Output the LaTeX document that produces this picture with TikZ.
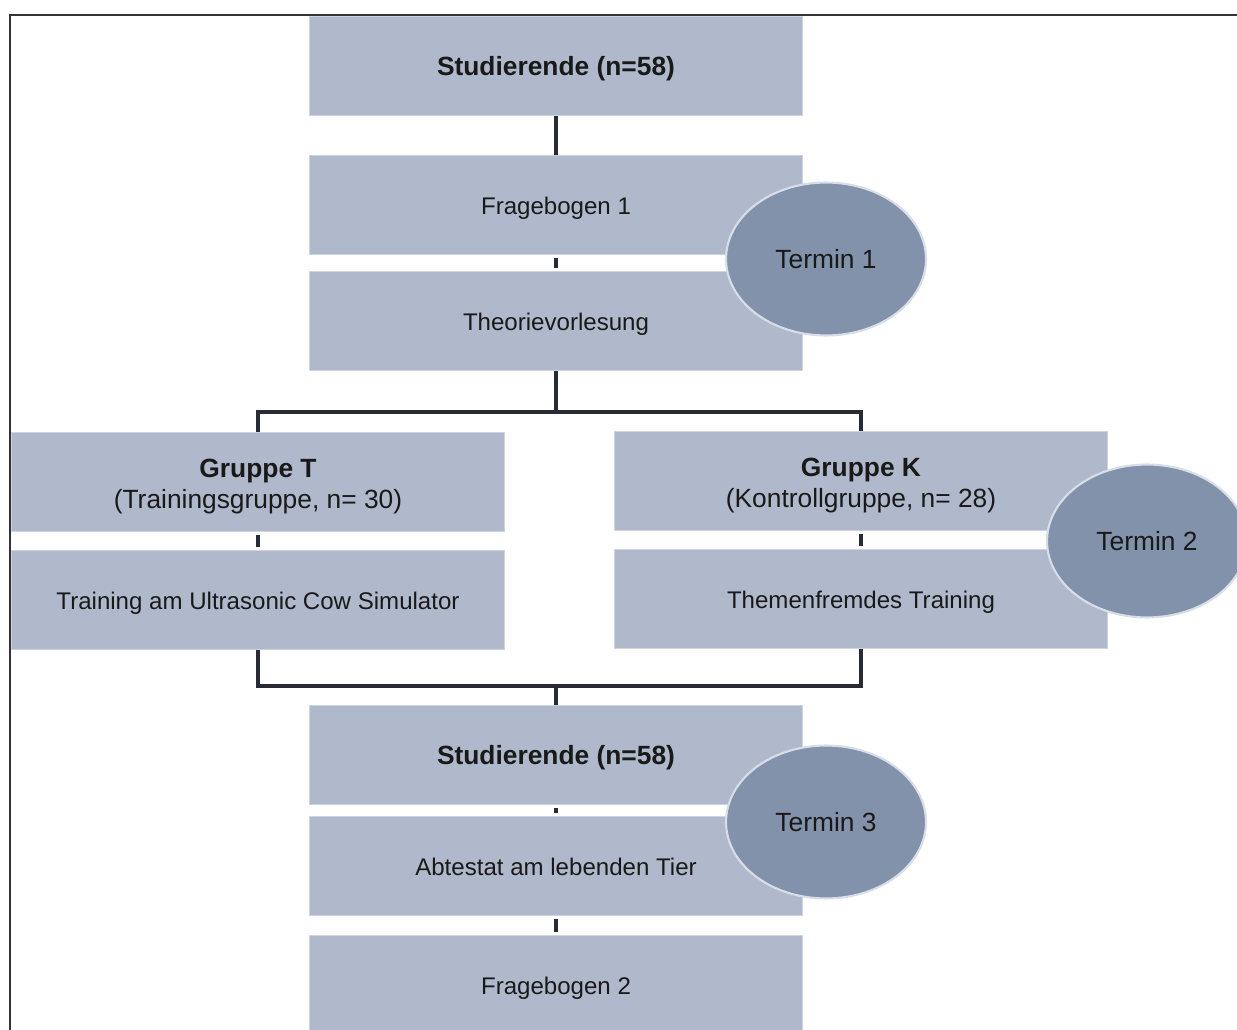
\documentclass[tikz,border=0pt]{standalone}
\usepackage{fontspec}
\setmainfont{Liberation Sans}
\usepackage{tikz}
\usetikzlibrary{
    positioning,
    shapes.geometric
}
\definecolor{boxBlue}{RGB}{175, 185, 203}
\definecolor{boxEdge}{RGB}{205, 211, 223}
\definecolor{ovalBlue}{RGB}{130, 146, 170}
\definecolor{ovalEdge}{RGB}{216, 222, 233}
\definecolor{lineDark}{RGB}{38, 43, 54}

\begin{document}
\begin{tikzpicture}[x=0.02cm, y=-0.02cm,
    stepbox/.style={fill=boxBlue, draw=boxEdge, line width=0.6pt,
        minimum width=9.86cm, minimum height=1.98cm, inner sep=0pt,
        align=center, text=black!90, font=\fontsize{13.7}{18}\selectfont,
        text height=13pt, text depth=2.5pt},
    groupbox/.style={stepbox, text height=, text depth=,
        font=\fontsize{15}{18}\selectfont},
    termin/.style={ellipse, fill=ovalBlue, draw=ovalEdge, line width=1.2pt,
        minimum width=4cm, minimum height=3.06cm, inner sep=0pt,
        text=black!90, font=\fontsize{15}{18}\selectfont},
    link/.style={lineDark, line width=2.8pt},
    stub/.style={link, shorten <=1.5pt, shorten >=1.5pt}]
    % Seite und Rahmen
    \useasboundingbox (0,0) rectangle (1237,1030);
    \clip (0,0) rectangle (1237,1030);
    \fill[white] (0,0) rectangle (1237,1030);
    \draw[black!80, line width=1.1pt] (10,1050) -- (10,15) -- (1260,15);

    % Termin 1
    \node[stepbox] (stud1) at (556,66) {\fontsize{15}{18}\selectfont\textbf{Studierende (n=58)}};
    \node[stepbox] (frag1) at (556,205) {Fragebogen 1};
    \node[stepbox] (theo) at (556,321) {Theorievorlesung};

    % Termin 2: zwei Gruppen
    \node[groupbox] (grpT) at (258,482)
        {\rule{0pt}{15.5pt}\textbf{Gruppe T}\\(Trainingsgruppe, n= 30)};
    \node[groupbox] (grpK) at (861,481)
        {\rule{0pt}{15.5pt}\textbf{Gruppe K}\\(Kontrollgruppe, n= 28)};
    \node[stepbox] (trainT) at (258,600) {Training am Ultrasonic Cow Simulator};
    \node[stepbox] (trainK) at (861,599) {Themenfremdes Training};

    % Termin 3
    \node[stepbox] (stud2) at (556,755) {\fontsize{15}{18}\selectfont\textbf{Studierende (n=58)}};
    \node[stepbox] (abtest) at (556,866) {Abtestat am lebenden Tier};
    \node[stepbox] (frag2) at (556,985) {Fragebogen 2};

    % Verbindungen
    \coordinate (split) at (556,412);
    \coordinate (join) at (556,686);
    \draw[link] (stud1) -- (frag1);
    \draw[stub] (frag1) -- (theo);
    \draw[link] (theo) -- (split);
    \draw[link] (grpT.north) |- (split) -| (grpK.north);
    \draw[stub] (grpT) -- (trainT);
    \draw[stub] (grpK) -- (trainK);
    \draw[link] (trainT.south) |- (join) -| (trainK.south);
    \draw[link] (join) -- (stud2.north);
    \draw[stub] (stud2) -- (abtest);
    \draw[stub] (abtest) -- (frag2);

    % Termine
    \node[termin] (term1) at (826,259) {Termin 1};
    \node[termin] (term2) at (1147,541) {Termin 2};
    \node[termin] (term3) at (826,822) {Termin 3};
\end{tikzpicture}
\end{document}
